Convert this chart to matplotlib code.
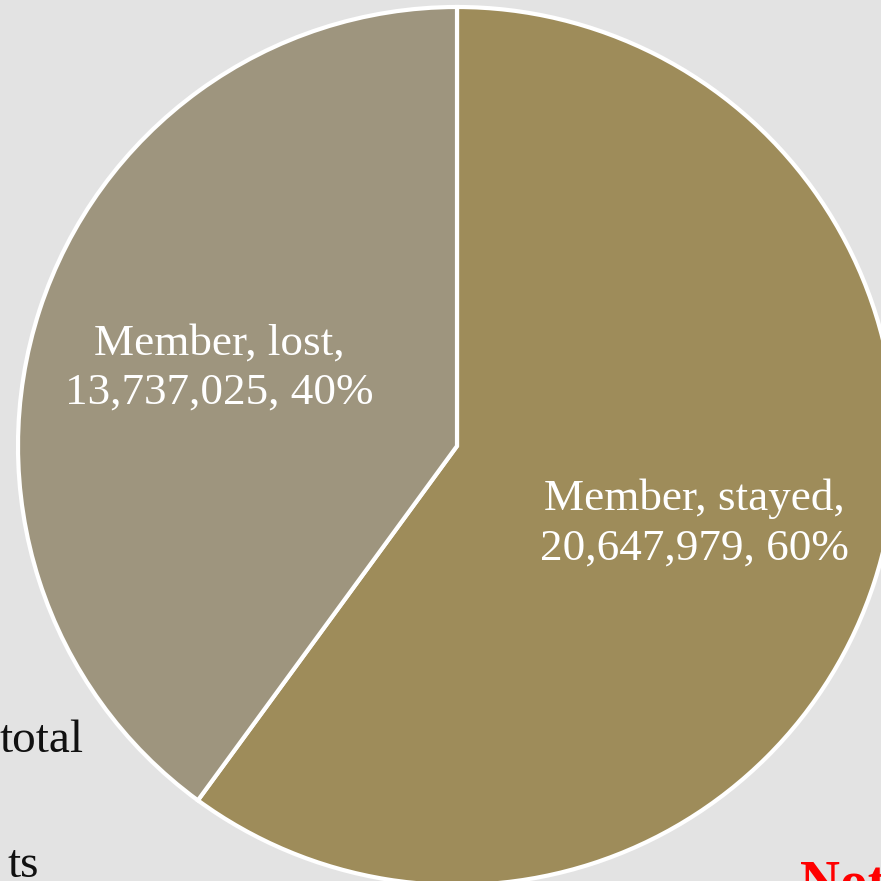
import matplotlib
matplotlib.use("Agg")
import matplotlib.pyplot as plt

categories = ["Member, stayed", "Member, lost"]
values = [20647979, 13737025]
percents = ["60%", "40%"]
colors = ["#9E8C5A", "#9E957E"]

W = H = 881
fig = plt.figure(figsize=(W / 100, H / 100), dpi=100)
fig.patch.set_facecolor("#E3E3E3")

# background side texts (partially visible in the original)
fig.text(84 / W, 1 - 752 / H, "total", ha="right", va="baseline",
         fontsize=34, family="Liberation Serif", color="#111111")
fig.text(39 / W, 1 - 877 / H, "ts", ha="right", va="baseline",
         fontsize=34, family="Liberation Serif", color="#111111")
fig.text(800 / W, 1 - 860 / H, "Not", ha="left", va="top",
         fontsize=40, family="Liberation Serif", weight="bold", color="#FF0000")

cx, cy, r = 457, 446, 439
ax = fig.add_axes([(cx - r) / W, (H - cy - r) / H, 2 * r / W, 2 * r / H])
ax.set_facecolor("none")

labels = [f"{c},\n{v:,}, {p}" for c, v, p in zip(categories, values, percents)]
wedges, texts = ax.pie(values, colors=colors, startangle=90, counterclock=False,
                       labels=labels, labeldistance=0.57,
                       wedgeprops=dict(edgecolor="white", linewidth=3),
                       textprops=dict(color="white", fontsize=32.5,
                                      family="Liberation Serif",
                                      ha="center", va="center", linespacing=1.3))
ax.set_xlim(-1, 1)
ax.set_ylim(-1, 1)
ax.set_aspect("equal")
ax.axis("off")

fig.savefig("out.png", dpi=100, facecolor=fig.get_facecolor())
